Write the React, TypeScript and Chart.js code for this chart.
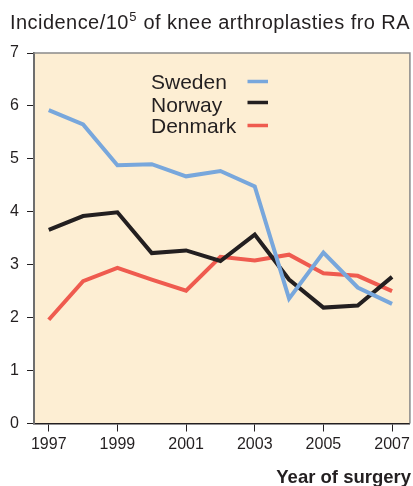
import React, { useEffect, useRef } from "react";
import { Chart, registerables } from "chart.js";

Chart.register(...registerables);

const years = [1997, 1998, 1999, 2000, 2001, 2002, 2003, 2004, 2005, 2006, 2007];
const sweden = [5.92, 5.65, 4.88, 4.9, 4.67, 4.77, 4.48, 2.36, 3.23, 2.57, 2.26];
const norway = [3.66, 3.92, 3.99, 3.22, 3.27, 3.07, 3.57, 2.72, 2.19, 2.23, 2.77];
const denmark = [1.96, 2.69, 2.94, 2.72, 2.51, 3.15, 3.08, 3.19, 2.84, 2.79, 2.5];
const xTicks = [1997, 1999, 2001, 2003, 2005, 2007];
const yTicks = [0, 1, 2, 3, 4, 5, 6, 7];
const seriesNames = ["Sweden", "Norway", "Denmark"];
const seriesColors = ["#78a7dc", "#231f20", "#ef5b4f"];

const FONT = "'Liberation Sans', Arial, Helvetica, sans-serif";

export default function App() {
  const ref = useRef<HTMLCanvasElement>(null);
  useEffect(() => {
    document.body.style.margin = "0";
    const canvas = ref.current!;
    const values = [sweden, norway, denmark];
    const decor = {
      id: "decor",
      beforeDraw(chart: any) {
        const { ctx, chartArea: a } = chart;
        ctx.save();
        ctx.fillStyle = "#fdeed3";
        ctx.fillRect(a.left, a.top, a.right - a.left, a.bottom - a.top);
        ctx.restore();
      },
      afterDatasetsDraw(chart: any) {
        const { ctx, chartArea: a } = chart;
        ctx.save();
        // frame top/right
        ctx.strokeStyle = "#8a8a8a";
        ctx.lineWidth = 1.5;
        ctx.beginPath();
        ctx.moveTo(a.left, a.top);
        ctx.lineTo(a.right, a.top);
        ctx.lineTo(a.right, a.bottom);
        ctx.stroke();
        // legend
        ctx.font = `21px ${FONT}`;
        ctx.fillStyle = "#231f20";
        ctx.textBaseline = "alphabetic";
        ctx.textAlign = "left";
        const baselines = [88.5, 111.5, 133];
        const lineYs = [81.5, 102.5, 125.5];
        seriesNames.forEach((n, i) => {
          ctx.fillText(n, 151, baselines[i]);
          ctx.strokeStyle = seriesColors[i];
          ctx.lineWidth = 3.5;
          ctx.beginPath();
          ctx.moveTo(247.5, lineYs[i]);
          ctx.lineTo(268, lineYs[i]);
          ctx.stroke();
        });
        // title
        ctx.fillStyle = "#231f20";
        (ctx as any).letterSpacing = "0.45px";
        ctx.font = `20px ${FONT}`;
        let x = 10;
        const by = 28.5;
        const p1 = "Incidence/10";
        ctx.fillText(p1, x, by);
        x += ctx.measureText(p1).width;
        ctx.font = `13px ${FONT}`;
        ctx.fillText("5", x + 0.5, by - 7.5);
        x += ctx.measureText("5").width + 1;
        ctx.font = `20px ${FONT}`;
        ctx.fillText(" of knee arthroplasties fro RA", x, by);
        (ctx as any).letterSpacing = "0px";
        // x axis title
        ctx.font = `bold 18.5px ${FONT}`;
        ctx.textAlign = "right";
        ctx.fillText("Year of surgery", 411, 483);
        ctx.restore();
      },
    };
    const chart = new Chart(canvas, {
      type: "line",
      data: {
        datasets: seriesNames.map((n, i) => ({
          label: n,
          data: years.map((y, j) => ({ x: y, y: values[i][j] })),
          borderColor: seriesColors[i],
          borderWidth: 4,
          pointRadius: 0,
          tension: 0,
          fill: false,
          borderJoinStyle: "miter" as const,
        })),
      },
      options: {
        animation: false,
        responsive: false,
        devicePixelRatio: 1,
        layout: { padding: { top: 53, right: 3, left: 0, bottom: 0 } },
        plugins: { legend: { display: false }, tooltip: { enabled: false }, title: { display: false } },
        scales: {
          x: {
            type: "linear",
            min: 1996.57,
            max: 2007.52,
            afterBuildTicks: (s: any) => {
              s.ticks = xTicks.map((v) => ({ value: v }));
            },
            afterFit: (s: any) => {
              s.height = 62.5;
            },
            ticks: {
              color: "#231f20",
              font: { family: FONT, size: 16 },
              padding: 3,
              maxRotation: 0,
              callback: (v: any) => String(v),
            },
            grid: { display: true, drawOnChartArea: false, tickLength: 8, tickColor: "#231f20", lineWidth: 1 },
            border: { display: true, color: "#231f20", width: 1.5 },
          },
          y: {
            min: 0,
            max: 7,
            afterBuildTicks: (s: any) => {
              s.ticks = yTicks.map((v) => ({ value: v }));
            },
            afterFit: (s: any) => {
              s.width = 34;
            },
            ticks: {
              color: "#231f20",
              font: { family: FONT, size: 16 },
              padding: 8,
              callback: (v: any) => String(v),
            },
            grid: { display: true, drawOnChartArea: false, tickLength: 7, tickColor: "#231f20", lineWidth: 1 },
            border: { display: true, color: "#6e6e6e", width: 2 },
          },
        },
      },
      plugins: [decor],
    });
    return () => chart.destroy();
  }, []);
  return (
    <div style={{ width: 413, height: 486 }}>
      <canvas ref={ref} width={413} height={486} style={{ display: "block", width: 413, height: 486 }} />
    </div>
  );
}
